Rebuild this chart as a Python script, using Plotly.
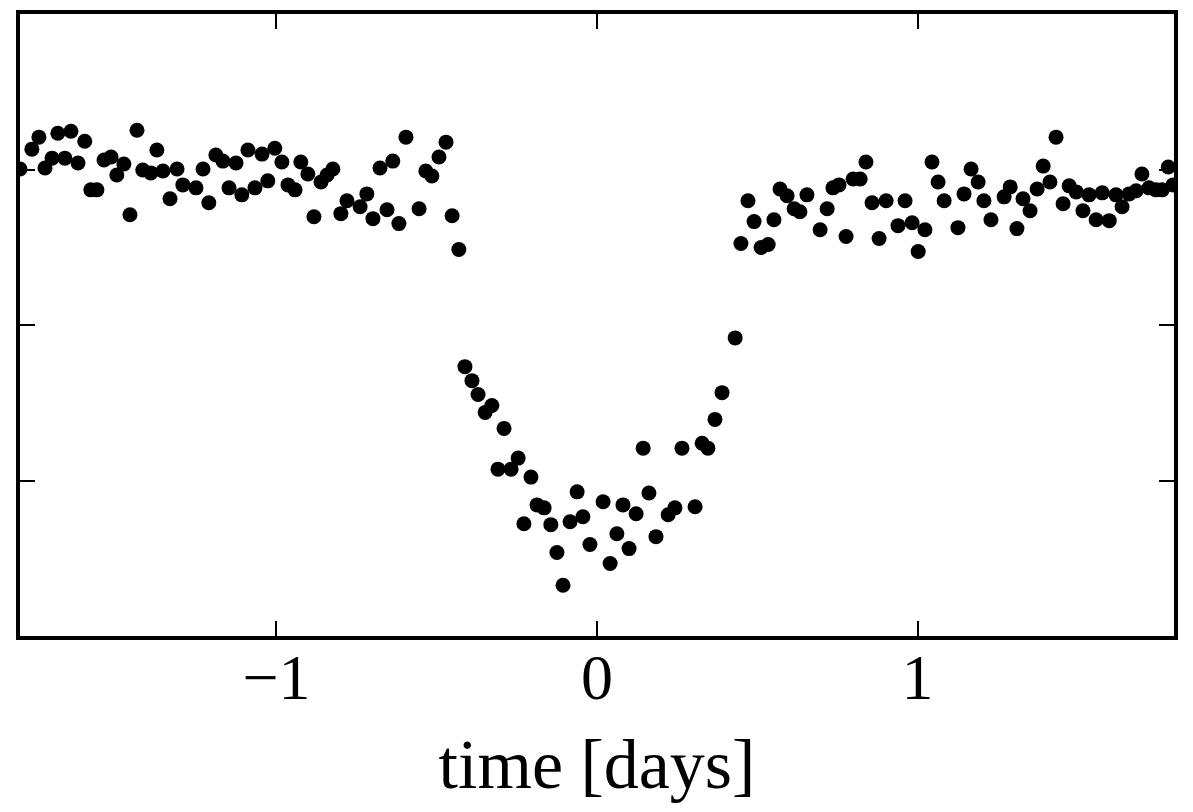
import plotly.graph_objects as go

# time [days]
time_days = [
    -1.800, -1.763, -1.741, -1.722, -1.700, -1.682, -1.660, -1.641, -1.619, -1.598,
    -1.579, -1.560, -1.538, -1.516, -1.498, -1.476, -1.457, -1.435, -1.417, -1.392,
    -1.373, -1.354, -1.332, -1.310, -1.292, -1.251, -1.229, -1.211, -1.189, -1.167,
    -1.148, -1.126, -1.108, -1.089, -1.067, -1.045, -1.027, -1.005, -0.983, -0.964,
    -0.942, -0.924, -0.902, -0.883, -0.861, -0.842, -0.824, -0.799, -0.780, -0.739,
    -0.718, -0.699, -0.677, -0.655, -0.637, -0.618, -0.596, -0.555, -0.534, -0.515,
    -0.493, -0.471, -0.452, -0.431,
    -0.412, -0.390, -0.371, -0.349, -0.328, -0.309, -0.290, -0.268, -0.246, -0.228,
    -0.206, -0.187, -0.165, -0.144, -0.125, -0.106, -0.084, -0.062, -0.044, -0.022,
    0.019, 0.041, 0.062, 0.081, 0.100, 0.122, 0.144, 0.162, 0.184, 0.222,
    0.243, 0.265, 0.306, 0.328, 0.346, 0.368, 0.390, 0.431,
    0.449, 0.471, 0.490, 0.512, 0.534, 0.552, 0.571, 0.593, 0.615, 0.633,
    0.655, 0.696, 0.718, 0.736, 0.755, 0.777, 0.799, 0.821, 0.839, 0.858,
    0.880, 0.902, 0.939, 0.961, 0.983, 1.002, 1.023, 1.045, 1.064, 1.083,
    1.126, 1.145, 1.167, 1.189, 1.207, 1.229, 1.270, 1.289, 1.310, 1.329,
    1.351, 1.373, 1.392, 1.413, 1.432, 1.454, 1.473, 1.495, 1.516, 1.535,
    1.557, 1.576, 1.598, 1.619, 1.638, 1.660, 1.682, 1.700, 1.722, 1.744,
    1.763, 1.782, 1.797,
]

# relative flux deviation [ppt]
flux_ppt = [
    0.03, 1.31, 2.08, 0.10, 0.73, 2.33, 0.73, 2.46, 0.42, 1.82,
    -1.31, -1.31, 0.61, 0.80, -0.35, 0.35, -2.91, 2.52, -0.03, -0.22,
    1.25, -0.10, -1.88, 0.03, -0.99, -1.18, 0.03, -2.14, 0.93, 0.54,
    -1.18, 0.42, -1.63, 1.25, -1.18, 0.99, -0.73, 1.37, 0.48, -0.99,
    -1.31, 0.48, -0.29, -3.04, -0.80, -0.35, 0.03, -2.84, -2.01, -2.40,
    -1.57, -3.16, 0.10, -2.59, 0.54, -3.48, 2.08, -2.52, -0.10, -0.42,
    0.80, 1.76, -2.97, -5.14,
    -12.68, -13.58, -14.47, -15.62, -15.18, -19.27, -16.65, -19.27, -18.56, -22.78,
    -19.78, -21.57, -21.76, -22.84, -24.63, -26.74, -22.65, -20.73, -22.33, -24.12,
    -21.37, -25.34, -23.42, -21.57, -24.38, -22.14, -17.92, -20.80, -23.61, -22.20,
    -21.76, -17.92, -21.69, -17.60, -17.92, -16.07, -14.35, -10.83,
    -4.76, -2.01, -3.35, -5.02, -4.82, -3.23, -1.25, -1.69, -2.52, -2.72,
    -1.63, -3.87, -2.52, -1.18, -0.99, -4.31, -0.61, -0.61, 0.48, -2.14,
    -4.44, -2.01, -3.61, -2.01, -3.42, -5.27, -3.87, 0.48, -0.80, -2.01,
    -3.74, -1.57, 0.03, -0.80, -2.01, -3.23, -1.76, -1.12, -3.80, -1.88,
    -2.65, -1.25, 0.22, -0.80, 2.08, -2.20, -1.05, -1.44, -2.65, -1.63,
    -3.23, -1.50, -3.29, -1.63, -2.40, -1.57, -1.37, -0.29, -1.18, -1.31,
    -1.31, 0.16, -0.99,
]

x_ticks = [-1, 0, 1]
x_tick_labels = ["\u22121", "0", "1"]
y_ticks = [-20, -10, 0]

fig = go.Figure(
    go.Scatter(
        x=time_days,
        y=flux_ppt,
        mode="markers",
        marker=dict(color="black", size=15, line=dict(width=0)),
        cliponaxis=True,
        showlegend=False,
    )
)

axis_common = dict(
    showline=True,
    linecolor="black",
    linewidth=3.5,
    mirror="ticks",
    ticks="inside",
    ticklen=15,
    tickwidth=1.5,
    tickcolor="black",
    showgrid=False,
    zeroline=False,
)

fig.update_layout(
    width=1193,
    height=812,
    margin=dict(l=20, r=19, t=10, b=176),
    paper_bgcolor="white",
    plot_bgcolor="white",
    font=dict(family="Liberation Serif, DejaVu Serif, serif", color="black"),
    xaxis=dict(
        range=[-1.8, 1.8],
        tickvals=x_ticks,
        ticktext=x_tick_labels,
        tickfont=dict(size=64),
        ticklabelstandoff=-18,
        title=dict(text="time [days]", font=dict(size=70), standoff=28),
        **axis_common,
    ),
    yaxis=dict(
        range=[-30, 10],
        tickvals=y_ticks,
        showticklabels=False,
        **axis_common,
    ),
)

fig.write_html("out.html")
